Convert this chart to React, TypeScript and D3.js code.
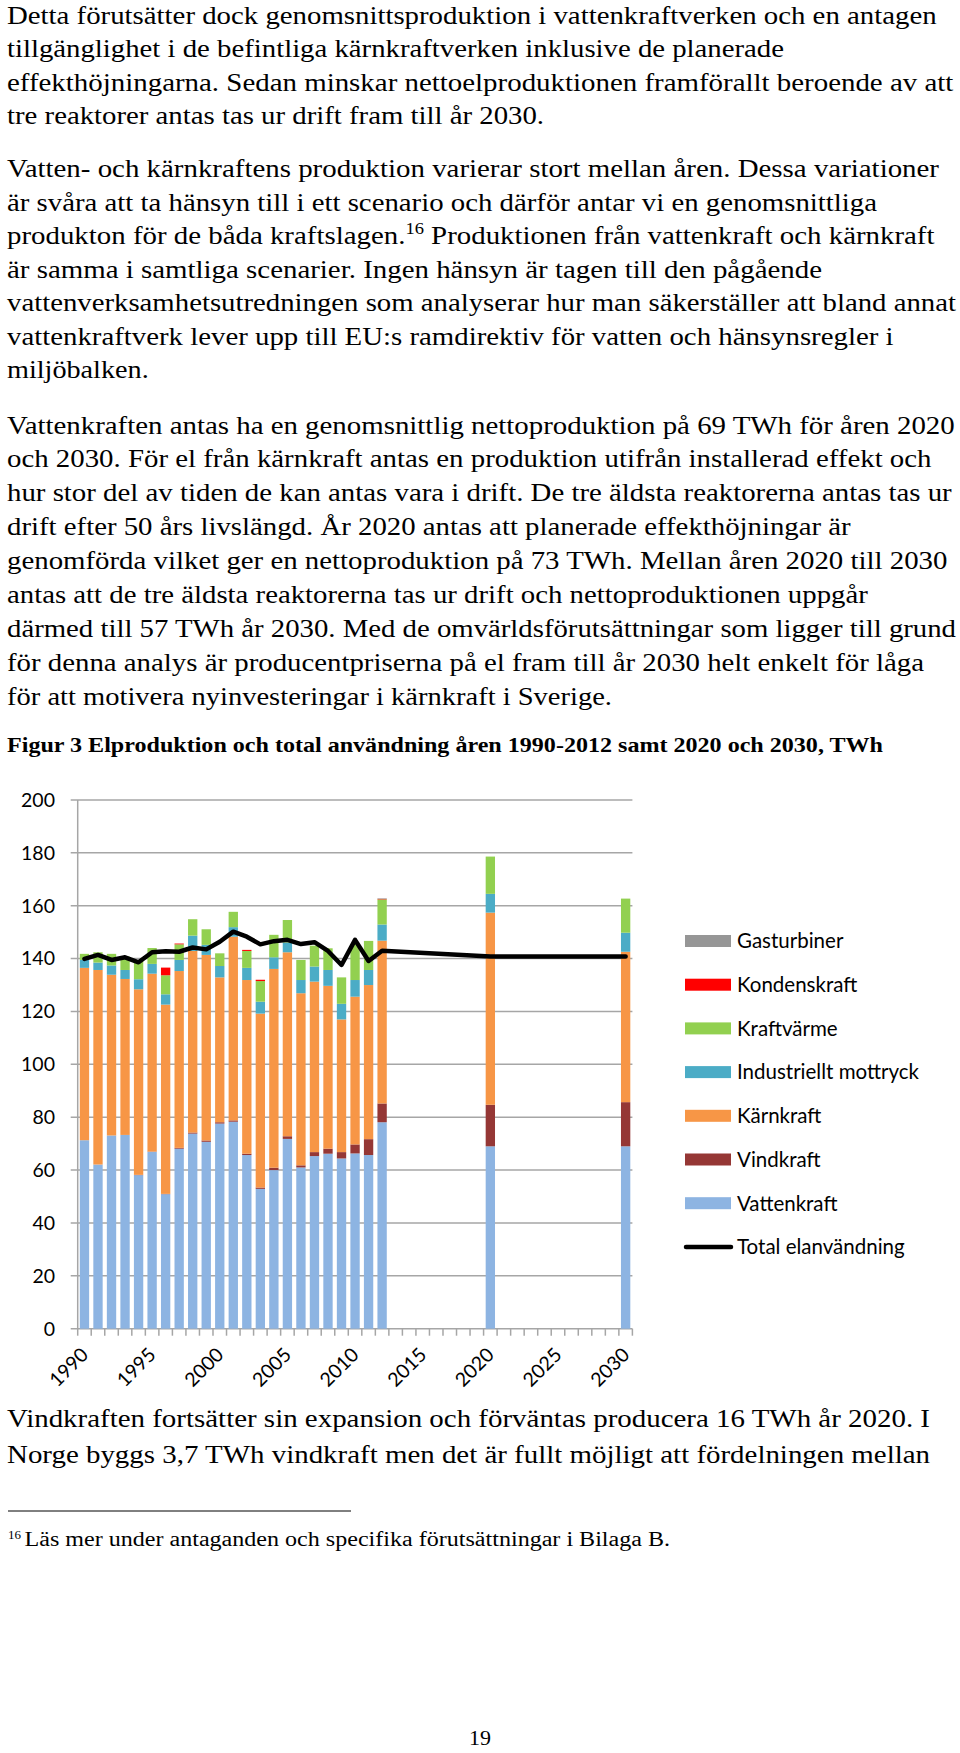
import React from 'react';
import * as d3 from 'd3';

// ---------- chart data ----------
const allYears = d3.range(1990, 2031).map(String);
const dataYears = ['1990','1991','1992','1993','1994','1995','1996','1997','1998','1999','2000','2001','2002','2003','2004','2005','2006','2007','2008','2009','2010','2011','2012','2020','2030'];
const vattenkraft = [71.3,62.1,73.1,73.3,58.1,66.9,50.9,68.1,73.8,70.7,77.6,78.3,65.7,52.9,60.0,71.8,61.0,65.3,66.2,64.4,66.3,65.7,78.1,69.0,69.0];
const vindkraft = [0,0,0,0,0.1,0.1,0.1,0.3,0.4,0.5,0.5,0.5,0.5,0.5,0.9,1.0,0.8,1.5,1.9,2.4,3.4,6.0,7.1,15.7,16.7];
const karnkraft = [65.2,73.6,60.8,59.0,70.2,67.3,71.6,66.9,68.7,70.2,54.8,69.5,65.7,65.8,75.2,69.6,65.1,64.5,61.6,50.2,55.9,58.3,61.6,72.7,56.9];
const industriellt = [3.0,2.8,3.5,3.4,3.8,3.7,3.9,4.2,5.8,3.8,4.3,3.6,4.6,4.5,4.4,3.7,5.0,5.7,6.0,5.9,6.3,5.7,6.1,7.1,7.2];
const kraftvarme = [2.3,3.9,4.4,5.1,7.0,6.0,7.2,5.9,6.2,5.9,4.8,5.8,6.4,7.8,8.5,8.5,7.6,7.9,8.2,10.0,13.6,11.0,9.5,14.1,12.9];
const kondenskraft = [0,0,0,0,0,0,2.9,0.3,0,0,0,0,0.4,0.5,0,0,0,0,0,0,0,0,0.2,0,0];
const gasturbiner = [0,0,0,0,0,0,0,0,0,0,0,0,0,0,0,0,0,0,0,0,0,0,0.2,0,0];
const totalElanvandning = [139.9,141.4,139.5,140.5,138.6,142.4,142.8,142.6,144.2,143.5,146.4,150.2,148.3,145.4,146.6,147.1,145.5,146.2,142.9,137.6,147.1,139.1,143.0,140.8,140.8];
const xTickYears = ['1990','1995','2000','2005','2010','2015','2020','2025','2030'];
const yTicks = [0,20,40,60,80,100,120,140,160,180,200];

const seriesKeys = ['Vattenkraft','Vindkraft','Kärnkraft','Industriellt mottryck','Kraftvärme','Kondenskraft','Gasturbiner'];
const seriesValues = [vattenkraft, vindkraft, karnkraft, industriellt, kraftvarme, kondenskraft, gasturbiner];
const seriesColors = ['#8DB4E2','#953735','#F79646','#4BACC6','#92D050','#FF0000','#969696'];
const legendOrder = ['Gasturbiner','Kondenskraft','Kraftvärme','Industriellt mottryck','Kärnkraft','Vindkraft','Vattenkraft'];

// ---------- page text ----------
const para1 = [
  'Detta förutsätter dock genomsnittsproduktion i vattenkraftverken och en antagen',
  'tillgänglighet i de befintliga kärnkraftverken inklusive de planerade',
  'effekthöjningarna. Sedan minskar nettoelproduktionen framförallt beroende av att',
  'tre reaktorer antas tas ur drift fram till år 2030.',
];
const para2 = [
  'Vatten- och kärnkraftens produktion varierar stort mellan åren. Dessa variationer',
  'är svåra att ta hänsyn till i ett scenario och därför antar vi en genomsnittliga',
  '__FN__',
  'är samma i samtliga scenarier. Ingen hänsyn är tagen till den pågående',
  'vattenverksamhetsutredningen som analyserar hur man säkerställer att bland annat',
  'vattenkraftverk lever upp till EU:s ramdirektiv för vatten och hänsynsregler i',
  'miljöbalken.',
];
const para3 = [
  'Vattenkraften antas ha en genomsnittlig nettoproduktion på 69 TWh för åren 2020',
  'och 2030. För el från kärnkraft antas en produktion utifrån installerad effekt och',
  'hur stor del av tiden de kan antas vara i drift. De tre äldsta reaktorerna antas tas ur',
  'drift efter 50 års livslängd. År 2020 antas att planerade effekthöjningar är',
  'genomförda vilket ger en nettoproduktion på 73 TWh. Mellan åren 2020 till 2030',
  'antas att de tre äldsta reaktorerna tas ur drift och nettoproduktionen uppgår',
  'därmed till 57 TWh år 2030. Med de omvärldsförutsättningar som ligger till grund',
  'för denna analys är producentpriserna på el fram till år 2030 helt enkelt för låga',
  'för att motivera nyinvesteringar i kärnkraft i Sverige.',
];
const caption = 'Figur 3 Elproduktion och total användning åren 1990-2012 samt 2020 och 2030, TWh';
const para4 = [
  'Vindkraften fortsätter sin expansion och förväntas producera 16 TWh år 2020. I',
  'Norge byggs 3,7 TWh vindkraft men det är fullt möjligt att fördelningen mellan',
];
const footnote = 'Läs mer under antaganden och specifika förutsättningar i Bilaga B.';

// layout (line right ends)
const para1Ends = [936.6, 784, 953.3, 544];
const para2Ends = [939, 877, 934.5, 822, 956, 893.5, 148.7];
const para3Ends = [954.7, 931.5, 951.7, 850.7, 947.4, 867.8, 956, 924, 612];
const para4Ends = [930, 930];

const SERIF = "'Liberation Serif', Tinos, 'Times New Roman', Times, serif";
const SANS = "Lato, 'Open Sans', sans-serif";
const X0 = 7;
const FS = 25;

function Para({ lines, ends, top, step }: { lines: string[]; ends: number[]; top: number; step: number }) {
  return (
    <g style={{ fontFamily: SERIF }} fontSize={FS} fill="#000">
      {lines.map((l, i) => {
        const y = top + i * step;
        if (l === '__FN__') {
          return (
            <text key={i} x={X0} y={y} textLength={ends[i] - X0} lengthAdjust="spacingAndGlyphs" style={{ fontFamily: SERIF }}>
              produkton för de båda kraftslagen.<tspan fontSize={16} dy={-10}>16</tspan>
              <tspan dy={10}> Produktionen från vattenkraft och kärnkraft</tspan>
            </text>
          );
        }
        return (
          <text key={i} x={X0} y={y} textLength={ends[i] - X0} lengthAdjust="spacingAndGlyphs" style={{ fontFamily: SERIF }}>{l}</text>
        );
      })}
    </g>
  );
}

export default function App() {
  const left = 77.7, right = 632.4, top = 800, bottom = 1328.7;
  const x = d3.scaleBand<string>().domain(allYears).range([left, right]).paddingInner(0.31).paddingOuter(0.155);
  const y = d3.scaleLinear().domain([0, 200]).range([bottom, top]);

  const rows = dataYears.map((yr, i) => {
    const r: any = { year: yr };
    seriesKeys.forEach((k, j) => (r[k] = seriesValues[j][i]));
    return r;
  });
  const stacked = d3.stack<any>().keys(seriesKeys)(rows);
  const colorOf = (k: string) => seriesColors[seriesKeys.indexOf(k)];

  const line = d3.line<number>()
    .x((_, i) => (x(dataYears[i]) as number) + x.bandwidth() / 2)
    .y((d) => y(d));

  const step = x.step();
  const tickXs = d3.range(allYears.length + 1).map((i) => left + i * step);

  const legendItems = [...legendOrder, 'Total elanvändning'];

  return (
    <svg width={960} height={1753} style={{ position: 'absolute', left: 0, top: 0, background: '#fff' }}>
      <rect width={960} height={1753} fill="#fff" />
      <Para lines={para1} ends={para1Ends} top={23.7} step={33.4} />
      <Para lines={para2} ends={para2Ends} top={177} step={33.5} />
      <Para lines={para3} ends={para3Ends} top={433.5} step={33.9} />
      <text x={X0} y={752} style={{ fontFamily: SERIF }} fontWeight="bold" fontSize={22} textLength={883 - X0} lengthAdjust="spacingAndGlyphs">{caption}</text>

      {/* gridlines */}
      <g stroke="#A6A6A6" strokeWidth={1.5}>
        {yTicks.map((t) => (
          <line key={t} x1={70.7} x2={right} y1={y(t)} y2={y(t)} />
        ))}
        <line x1={left} x2={left} y1={top} y2={bottom} />
        {tickXs.map((tx, i) => (
          <line key={i} x1={tx} x2={tx} y1={bottom} y2={bottom + 7} />
        ))}
      </g>

      {/* bars */}
      {stacked.map((s) => (
        <g key={s.key} fill={colorOf(s.key)}>
          {s.map((d, i) => (d[1] - d[0] > 0 ? (
            <rect key={i} x={x(dataYears[i])} width={x.bandwidth()} y={y(d[1])} height={y(d[0]) - y(d[1])} />
          ) : null))}
        </g>
      ))}

      {/* total line */}
      <path d={line(totalElanvandning) || ''} fill="none" stroke="#000" strokeWidth={4.5} strokeLinejoin="round" strokeLinecap="round" />

      {/* y labels */}
      <g style={{ fontFamily: SANS }} fontSize={19.5} fill="#000" textAnchor="end">
        {yTicks.map((t) => (
          <text key={t} x={55} y={y(t)} dy="0.35em">{t}</text>
        ))}
      </g>
      {/* x labels */}
      <g style={{ fontFamily: SANS }} fontSize={19.5} fill="#000" textAnchor="end">
        {xTickYears.map((yr) => {
          const cx = (x(yr) as number) + x.bandwidth() / 2 + 5;
          return (
            <text key={yr} transform={`translate(${cx},${1356}) rotate(-45)`}>{yr}</text>
          );
        })}
      </g>

      {/* legend */}
      <g style={{ fontFamily: SANS }} fontSize={20.5} fill="#000">
        {legendItems.map((k, i) => {
          const cy = 941 + i * 43.7;
          return (
            <g key={k}>
              {k === 'Total elanvändning' ? (
                <line x1={686} x2={731} y1={cy} y2={cy} stroke="#000" strokeWidth={4.5} strokeLinecap="round" />
              ) : (
                <rect x={685} y={cy - 6} width={46} height={12} fill={colorOf(k)} />
              )}
              <text x={737} y={cy} dy="0.36em">{k}</text>
            </g>
          );
        })}
      </g>

      <Para lines={para4} ends={para4Ends} top={1427} step={36} />
      <line x1={8} x2={351} y1={1511} y2={1511} stroke="#000" strokeWidth={1} />
      <g style={{ fontFamily: SERIF }} fill="#000">
        <text x={8} y={1539} fontSize={13}>16</text>
        <text x={24.5} y={1546} fontSize={20} textLength={670 - 24.5} lengthAdjust="spacingAndGlyphs">{footnote}</text>
        <text x={480} y={1745} fontSize={22} textAnchor="middle">19</text>
      </g>
    </svg>
  );
}
